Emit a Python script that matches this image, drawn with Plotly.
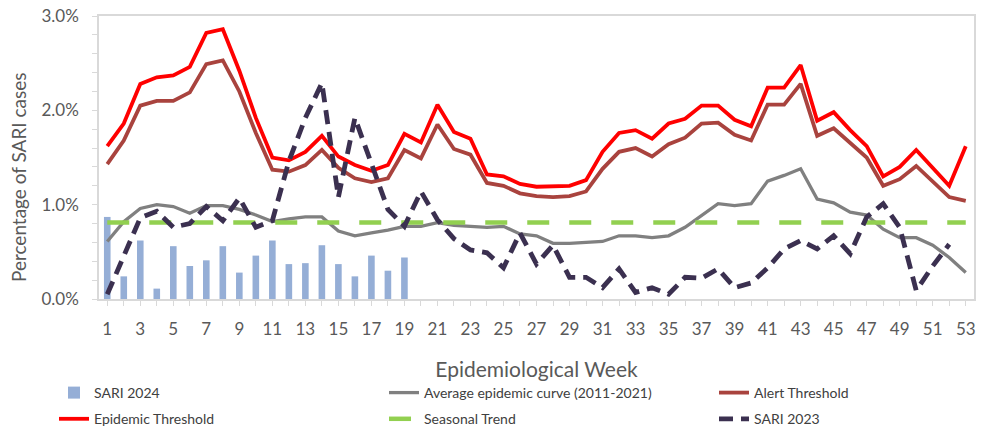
import plotly.graph_objects as go

weeks = list(range(1, 54))

sari_2024 = [0.87, 0.24, 0.62, 0.11, 0.56, 0.35, 0.41, 0.56, 0.28, 0.46,
             0.62, 0.37, 0.38, 0.57, 0.37, 0.24, 0.46, 0.30, 0.44]

avg_curve = [0.61, 0.82, 0.96, 1.00, 0.98, 0.91, 0.99, 0.99, 0.95, 0.89,
             0.82, 0.85, 0.87, 0.87, 0.72, 0.67, 0.70, 0.73, 0.77, 0.77,
             0.81, 0.78, 0.77, 0.76, 0.77, 0.69, 0.67, 0.59, 0.59, 0.60,
             0.61, 0.67, 0.67, 0.65, 0.67, 0.76, 0.89, 1.01, 0.99, 1.01,
             1.25, 1.31, 1.38, 1.06, 1.02, 0.92, 0.89, 0.74, 0.65, 0.65,
             0.57, 0.44, 0.28]

alert_threshold = [1.43, 1.68, 2.05, 2.10, 2.10, 2.19, 2.49, 2.53, 2.20, 1.76,
                   1.37, 1.35, 1.42, 1.58, 1.39, 1.28, 1.24, 1.28, 1.58, 1.49,
                   1.85, 1.59, 1.53, 1.23, 1.20, 1.12, 1.09, 1.08, 1.09, 1.14,
                   1.38, 1.56, 1.60, 1.51, 1.64, 1.71, 1.86, 1.87, 1.74, 1.68,
                   2.06, 2.06, 2.28, 1.73, 1.81, 1.65, 1.50, 1.20, 1.27, 1.41,
                   1.24, 1.08, 1.04]

epidemic_threshold = [1.62, 1.86, 2.28, 2.35, 2.37, 2.46, 2.82, 2.86, 2.42, 1.92,
                      1.50, 1.47, 1.56, 1.73, 1.51, 1.42, 1.36, 1.42, 1.75, 1.66,
                      2.06, 1.77, 1.70, 1.32, 1.30, 1.22, 1.19, 1.19, 1.20, 1.26,
                      1.56, 1.76, 1.79, 1.70, 1.86, 1.91, 2.05, 2.05, 1.90, 1.83,
                      2.24, 2.24, 2.48, 1.89, 1.98, 1.79, 1.62, 1.30, 1.40, 1.58,
                      1.39, 1.20, 1.62]

seasonal_trend = [0.81] * 53

sari_2023 = [0.05, 0.47, 0.86, 0.93, 0.76, 0.80, 0.98, 0.83, 1.07, 0.76,
             0.83, 1.46, 1.92, 2.29, 1.08, 1.92, 1.42, 0.95, 0.77, 1.14,
             0.84, 0.64, 0.52, 0.49, 0.33, 0.70, 0.37, 0.57, 0.23, 0.23,
             0.12, 0.32, 0.07, 0.12, 0.05, 0.23, 0.22, 0.32, 0.12, 0.17,
             0.33, 0.53, 0.62, 0.53, 0.67, 0.48, 0.87, 1.01, 0.76, 0.09,
             0.35, 0.58]

x_ticktext = [str(w) if w % 2 == 1 else "" for w in weeks]
y_tickvals = [0, 1, 2, 3]
y_ticktext = ["0.0%", "1.0%", "2.0%", "3.0%"]

FONT = "Lato, 'Open Sans', sans-serif"
AXIS_GRAY = "#D9D9D9"
TEXT_GRAY = "#595959"

# plot area in pixels (used only to place legends / title in paper coordinates)
PL, PR, PT, PB = 99, 974, 16, 299

fig = go.Figure()

fig.add_trace(go.Bar(
    x=weeks[:len(sari_2024)], y=sari_2024, name="SARI 2024",
    marker=dict(color="#95AED6", line=dict(width=0)),
    legend="legend", legendgroup="a",
))
fig.add_trace(go.Scatter(
    x=weeks, y=avg_curve, name="Average epidemic curve (2011-2021)",
    mode="lines", line=dict(color="#808080", width=3.3),
    legend="legend2", legendgroup="b",
))
fig.add_trace(go.Scatter(
    x=weeks, y=alert_threshold, name="Alert Threshold",
    mode="lines", line=dict(color="#A9433E", width=3.8),
    legend="legend3", legendgroup="c",
))
fig.add_trace(go.Scatter(
    x=weeks, y=epidemic_threshold, name="Epidemic Threshold",
    mode="lines", line=dict(color="#FF0000", width=3.8),
    legend="legend", legendgroup="d",
))
fig.add_trace(go.Scatter(
    x=weeks, y=seasonal_trend, name="Seasonal Trend",
    mode="lines", line=dict(color="#92D050", width=4.5, dash="22px,20px"),
    legend="legend2", legendgroup="e",
))
fig.add_trace(go.Scatter(
    x=weeks[:len(sari_2023)], y=sari_2023, name="SARI 2023",
    mode="lines", line=dict(color="#3B3050", width=4.8, dash="14px,8px"),
    legend="legend3", legendgroup="f",
))

def legend_box(xpix, ypix=377):
    return dict(
        orientation="v",
        x=(xpix - PL) / (PR - PL), xanchor="left",
        y=(PB - ypix) / (PB - PT), yanchor="top",
        font=dict(size=14, color="#404040"),
        traceorder="grouped", tracegroupgap=5,
        bgcolor="rgba(0,0,0,0)",
    )

fig.update_layout(
    width=985, height=430,
    margin=dict(l=PL, r=985 - PR, t=PT, b=430 - PB, autoexpand=False),
    paper_bgcolor="white", plot_bgcolor="white",
    font=dict(family=FONT, color=TEXT_GRAY),
    bargap=0.6,
    showlegend=True,
    legend=legend_box(54),
    legend2=legend_box(384),
    legend3=legend_box(714),
    xaxis=dict(
        range=[0.5, 53.5],
        tickmode="array", tickvals=weeks, ticktext=x_ticktext,
        ticks="outside", ticklen=5, tickcolor=AXIS_GRAY, tickwidth=1,
        ticklabelstandoff=9,
        tickfont=dict(size=17, color=TEXT_GRAY),
        showline=True, linecolor=AXIS_GRAY, linewidth=1.5, mirror=True,
        showgrid=False, zeroline=False,
        title=dict(text="Epidemiological Week", font=dict(size=21, color=TEXT_GRAY), standoff=24),
    ),
    yaxis=dict(
        range=[0, 3],
        tickmode="array", tickvals=y_tickvals, ticktext=y_ticktext,
        ticks="outside", ticklen=5, tickcolor=AXIS_GRAY, tickwidth=1,
        ticklabelstandoff=10,
        minor=dict(dtick=0.2, ticks="outside", ticklen=5, tickcolor=AXIS_GRAY, showgrid=False),
        tickfont=dict(size=17, color=TEXT_GRAY),
        showline=True, linecolor=AXIS_GRAY, linewidth=1.5, mirror=True,
        showgrid=False, zeroline=False,
    ),
    annotations=[dict(
        text="Percentage of SARI cases", textangle=-90,
        xref="paper", yref="paper",
        x=(18 - PL) / (PR - PL), y=(PB - 177) / (PB - PT),
        xanchor="center", yanchor="middle", showarrow=False,
        font=dict(size=19, color=TEXT_GRAY),
    )],
)

fig.write_html("out.html", config={"displayModeBar": False},
               post_script="document.body.style.margin='0px';")
